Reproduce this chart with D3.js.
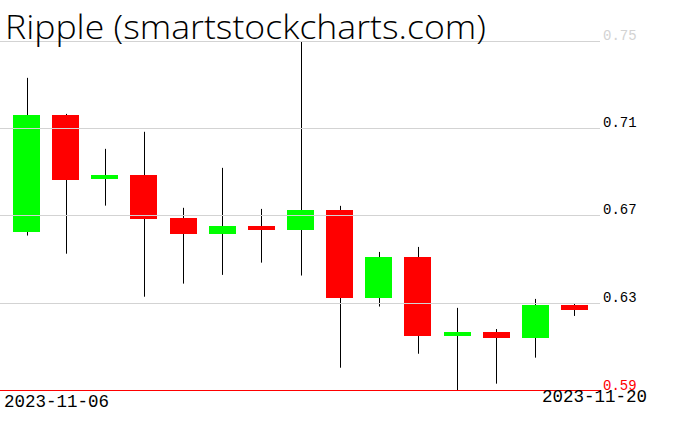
<!DOCTYPE html>
<html>
<head>
<meta charset="utf-8">
<script src="https://cdn.jsdelivr.net/npm/d3@7"></script>
<style>
  body { margin: 0; background: #fff; }
  svg { display: block; }
</style>
</head>
<body>
<div id="chart"></div>
<script>
// chart size
var width = 676;
var height = 431;

// daily candles
var dates = ["2023-11-06", "2023-11-07", "2023-11-08", "2023-11-09", "2023-11-10",
             "2023-11-11", "2023-11-12", "2023-11-13", "2023-11-14", "2023-11-15",
             "2023-11-16", "2023-11-17", "2023-11-18", "2023-11-19", "2023-11-20"];
var opens  = [0.6625, 0.7160, 0.6868, 0.6885, 0.6688, 0.6616, 0.6651, 0.6634, 0.6724, 0.6323, 0.6509, 0.6149, 0.6166, 0.6140, 0.6289];
var highs  = [0.7329, 0.7164, 0.7004, 0.7082, 0.6734, 0.6917, 0.6729, 0.7495, 0.6743, 0.6532, 0.6555, 0.6276, 0.6179, 0.6317, 0.6298];
var lows   = [0.6607, 0.6524, 0.6744, 0.6327, 0.6387, 0.6427, 0.6483, 0.6424, 0.6002, 0.6282, 0.6066, 0.5900, 0.5929, 0.6048, 0.6239];
var closes = [0.7160, 0.6863, 0.6885, 0.6685, 0.6616, 0.6651, 0.6634, 0.6724, 0.6323, 0.6509, 0.6149, 0.6166, 0.6140, 0.6289, 0.6266];

var yTicks = [0.75, 0.71, 0.67, 0.63];
var yMin = 0.59;
var title = "Ripple (smartstockcharts.com)";

var data = dates.map(function(d, i) {
    return {date: d, open: opens[i], high: highs[i], low: lows[i], close: closes[i]};
});

// scales
var x = d3.scaleBand()
    .domain(dates)
    .range([7, 594])
    .paddingInner(0.31)
    .paddingOuter(0.155);

var y = d3.scaleLinear()
    .domain([0.59, 0.75])
    .range([390, 40.5]);

var svg = d3.select("#chart").append("svg")
    .attr("width", width)
    .attr("height", height);

var monoFont = "'Liberation Mono', 'DejaVu Sans Mono', monospace";

// wicks first, bodies on top of them
svg.append("g").selectAll("line")
    .data(data)
    .enter().append("line")
    .attr("x1", function(d) { return Math.round(x(d.date) + x.bandwidth() / 2) + 0.5; })
    .attr("x2", function(d) { return Math.round(x(d.date) + x.bandwidth() / 2) + 0.5; })
    .attr("y1", function(d) { return y(d.high); })
    .attr("y2", function(d) { return y(d.low); })
    .attr("stroke", "#000")
    .attr("stroke-width", 1);

svg.append("g").selectAll("rect")
    .data(data)
    .enter().append("rect")
    .attr("x", function(d) { return x(d.date); })
    .attr("width", x.bandwidth())
    .attr("y", function(d) { return y(Math.max(d.open, d.close)); })
    .attr("height", function(d) { return Math.max(3, Math.abs(y(d.open) - y(d.close))); })
    .attr("fill", function(d) { return d.close >= d.open ? "#00ff00" : "#ff0000"; })
    .attr("shape-rendering", "crispEdges");

// grid lines go over the candles
var yAxis = d3.axisRight(y)
    .tickValues(yTicks)
    .tickSize(600)
    .tickFormat(d3.format(".2f"));

var axisG = svg.append("g")
    .call(yAxis);

axisG.select(".domain").remove();
axisG.selectAll(".tick line")
    .attr("stroke", "#d3d3d3")
    .attr("shape-rendering", "crispEdges");
axisG.selectAll(".tick text")
    .attr("x", 603)
    .attr("dy", "-0.1em")
    .attr("fill", function(d) { return d === 0.75 ? "#d3d3d3" : "#000"; })
    .style("font-family", monoFont)
    .style("font-size", "14px")
    .style("text-anchor", "start");

// bottom red line with its label
svg.append("line")
    .attr("x1", 0)
    .attr("x2", 601)
    .attr("y1", Math.round(y(yMin)) + 0.5)
    .attr("y2", Math.round(y(yMin)) + 0.5)
    .attr("stroke", "#ff0000");

svg.append("text")
    .attr("x", 603)
    .attr("y", y(yMin))
    .attr("fill", "#ff0000")
    .style("font-family", monoFont)
    .style("font-size", "14px")
    .text(d3.format(".2f")(yMin));

// date labels, first and last
svg.append("text")
    .attr("x", 4)
    .attr("y", 407)
    .style("font-family", monoFont)
    .style("font-size", "17.5px")
    .text(dates[0]);

svg.append("text")
    .attr("x", 647)
    .attr("y", 402)
    .style("text-anchor", "end")
    .style("font-family", monoFont)
    .style("font-size", "17.5px")
    .text(dates[dates.length - 1]);

// title
svg.append("text")
    .attr("x", 5)
    .attr("y", 39)
    .attr("textLength", 481)
    .attr("lengthAdjust", "spacingAndGlyphs")
    .style("font-family", "'Open Sans', sans-serif")
    .style("font-weight", 300)
    .style("font-size", "33px")
    .text(title);
</script>
</body>
</html>
